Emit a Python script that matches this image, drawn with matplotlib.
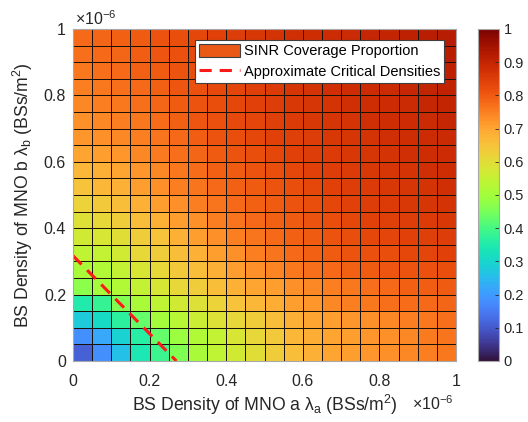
import numpy as np
import matplotlib
matplotlib.use("Agg")
import matplotlib.pyplot as plt
from matplotlib.patches import Patch
from matplotlib.lines import Line2D
from matplotlib.ticker import FuncFormatter

plt.rcParams['font.family'] = ['Liberation Sans', 'DejaVu Sans']
plt.rcParams['mathtext.fontset'] = 'custom'
plt.rcParams['mathtext.rm'] = 'Liberation Sans'
plt.rcParams['mathtext.it'] = 'Liberation Sans:italic'

# grid edges of BS densities (units of 1e-6 BSs/m^2)
lambda_a_edges = [0.00, 0.05, 0.10, 0.15, 0.20, 0.25, 0.30, 0.35, 0.40, 0.45, 0.50,
                  0.55, 0.60, 0.65, 0.70, 0.75, 0.80, 0.85, 0.90, 0.95, 1.00]
lambda_b_edges = [0.00, 0.05, 0.10, 0.15, 0.20, 0.25, 0.30, 0.35, 0.40, 0.45, 0.50,
                  0.55, 0.60, 0.65, 0.70, 0.75, 0.80, 0.85, 0.90, 0.95, 1.00]

# SINR coverage proportion, rows = lambda_b (bottom to top), cols = lambda_a
coverage = [
    [0.11, 0.18, 0.26, 0.34, 0.39, 0.46, 0.51, 0.54, 0.57, 0.60, 0.63, 0.66, 0.68, 0.70, 0.71, 0.72, 0.73, 0.74, 0.75, 0.76],
    [0.18, 0.22, 0.29, 0.36, 0.43, 0.49, 0.52, 0.55, 0.58, 0.61, 0.64, 0.67, 0.69, 0.70, 0.71, 0.72, 0.73, 0.74, 0.755, 0.765],
    [0.28, 0.31, 0.37, 0.43, 0.50, 0.53, 0.56, 0.59, 0.61, 0.63, 0.66, 0.68, 0.70, 0.71, 0.72, 0.73, 0.74, 0.75, 0.76, 0.77],
    [0.35, 0.38, 0.46, 0.51, 0.54, 0.57, 0.59, 0.62, 0.65, 0.67, 0.69, 0.71, 0.72, 0.74, 0.75, 0.76, 0.77, 0.775, 0.78, 0.785],
    [0.47, 0.50, 0.52, 0.55, 0.58, 0.61, 0.63, 0.66, 0.68, 0.70, 0.71, 0.73, 0.74, 0.75, 0.76, 0.77, 0.78, 0.79, 0.795, 0.80],
    [0.51, 0.52, 0.55, 0.58, 0.61, 0.64, 0.66, 0.68, 0.71, 0.73, 0.745, 0.76, 0.77, 0.78, 0.79, 0.80, 0.805, 0.81, 0.815, 0.82],
    [0.54, 0.55, 0.57, 0.61, 0.63, 0.66, 0.68, 0.71, 0.73, 0.75, 0.765, 0.78, 0.79, 0.80, 0.81, 0.815, 0.82, 0.83, 0.835, 0.84],
    [0.57, 0.58, 0.60, 0.63, 0.65, 0.68, 0.71, 0.73, 0.75, 0.765, 0.78, 0.79, 0.80, 0.81, 0.82, 0.83, 0.835, 0.84, 0.845, 0.85],
    [0.59, 0.61, 0.63, 0.66, 0.68, 0.71, 0.73, 0.75, 0.765, 0.78, 0.79, 0.80, 0.81, 0.82, 0.83, 0.84, 0.845, 0.85, 0.855, 0.86],
    [0.62, 0.64, 0.66, 0.68, 0.71, 0.73, 0.75, 0.765, 0.78, 0.79, 0.80, 0.81, 0.82, 0.83, 0.84, 0.85, 0.855, 0.86, 0.865, 0.87],
    [0.65, 0.67, 0.68, 0.71, 0.73, 0.75, 0.765, 0.78, 0.79, 0.80, 0.81, 0.82, 0.83, 0.84, 0.85, 0.855, 0.86, 0.865, 0.87, 0.875],
    [0.67, 0.68, 0.70, 0.72, 0.74, 0.76, 0.775, 0.79, 0.80, 0.81, 0.82, 0.83, 0.84, 0.85, 0.855, 0.86, 0.865, 0.87, 0.875, 0.88],
    [0.70, 0.71, 0.72, 0.74, 0.755, 0.77, 0.785, 0.80, 0.81, 0.82, 0.83, 0.84, 0.85, 0.855, 0.86, 0.865, 0.87, 0.875, 0.88, 0.885],
    [0.72, 0.73, 0.74, 0.75, 0.765, 0.78, 0.795, 0.81, 0.82, 0.83, 0.84, 0.845, 0.85, 0.86, 0.865, 0.87, 0.875, 0.88, 0.885, 0.89],
    [0.73, 0.74, 0.75, 0.76, 0.775, 0.79, 0.805, 0.815, 0.825, 0.835, 0.845, 0.855, 0.86, 0.865, 0.87, 0.875, 0.88, 0.885, 0.89, 0.895],
    [0.74, 0.75, 0.76, 0.77, 0.785, 0.80, 0.81, 0.82, 0.83, 0.84, 0.85, 0.86, 0.865, 0.87, 0.875, 0.88, 0.885, 0.89, 0.895, 0.90],
    [0.75, 0.76, 0.77, 0.78, 0.79, 0.805, 0.815, 0.825, 0.835, 0.845, 0.855, 0.865, 0.87, 0.875, 0.88, 0.885, 0.89, 0.895, 0.90, 0.905],
    [0.76, 0.77, 0.78, 0.79, 0.80, 0.81, 0.82, 0.83, 0.84, 0.85, 0.86, 0.87, 0.875, 0.88, 0.885, 0.89, 0.895, 0.90, 0.905, 0.91],
    [0.77, 0.78, 0.785, 0.795, 0.805, 0.815, 0.825, 0.835, 0.845, 0.855, 0.865, 0.87, 0.88, 0.885, 0.89, 0.895, 0.90, 0.905, 0.91, 0.915],
    [0.78, 0.785, 0.79, 0.80, 0.81, 0.82, 0.83, 0.84, 0.85, 0.86, 0.87, 0.875, 0.88, 0.885, 0.89, 0.895, 0.90, 0.91, 0.915, 0.92],
]

# approximate critical densities line (units of 1e-6)
critical_a = [0.0, 0.27]
critical_b = [0.317, 0.0]

axis_ticks = [0, 0.2, 0.4, 0.6, 0.8, 1.0]
cbar_ticks = [0, 0.1, 0.2, 0.3, 0.4, 0.5, 0.6, 0.7, 0.8, 0.9, 1.0]

SCALE = 1e-6
xa = np.array(lambda_a_edges) * SCALE
yb = np.array(lambda_b_edges) * SCALE
C = np.array(coverage)

TXT = '#262626'
fig = plt.figure(figsize=(5.28, 4.22), dpi=100)
ax = fig.add_axes([73/528, 1 - 361/422, 383/528, 332/422])
cax = fig.add_axes([478/528, 1 - 361/422, 21/528, 332/422])

mesh = ax.pcolormesh(xa, yb, C, cmap='turbo', vmin=0, vmax=1,
                     edgecolors='#1a1208', linewidth=0.6)
ax.plot(np.array(critical_a) * SCALE, np.array(critical_b) * SCALE,
        color='#ff1a1a', linestyle=(0, (4, 2.6)), linewidth=2.2)

ax.set_xlim(0, 1e-6)
ax.set_ylim(0, 1e-6)
fmt = FuncFormatter(lambda v, p: f"{v / SCALE:g}")
ax.set_xticks(np.array(axis_ticks) * SCALE)
ax.set_yticks(np.array(axis_ticks) * SCALE)
ax.xaxis.set_major_formatter(fmt)
ax.yaxis.set_major_formatter(fmt)
ax.tick_params(axis='both', length=0, labelsize=11.5, colors=TXT)
ax.tick_params(axis='x', pad=9)
ax.tick_params(axis='y', pad=5)
for s in ax.spines.values():
    s.set_color('#a8a8a8')
    s.set_linewidth(0.8)

ax.set_xlabel('BS Density of MNO a λ$_\\mathrm{a}$ (BSs/m$^2$)', fontsize=12.7, color=TXT, labelpad=3)
ax.set_ylabel('BS Density of MNO b λ$_\\mathrm{b}$ (BSs/m$^2$)', fontsize=12.7, color=TXT, labelpad=6)

fig.text(75/528, 1 - 25/422, '×10$^{-6}$', fontsize=11.5, color=TXT, ha='left', va='baseline')
fig.text(412/528, 1 - 410/422, '×10$^{-6}$', fontsize=11.5, color=TXT, ha='left', va='baseline')

handles = [Patch(facecolor='#ea5a16', edgecolor='#404040', linewidth=0.8),
           Line2D([0], [0], color='#ff1a1a', linestyle=(0, (4, 2.6)), linewidth=2.2)]
labels = ['SINR Coverage Proportion', 'Approximate Critical Densities']
leg = ax.legend(handles, labels, loc='upper right', bbox_to_anchor=(0.969, 0.967),
                borderaxespad=0, fancybox=False, framealpha=1, edgecolor='#404040',
                fontsize=10.5, handlelength=2.8, handleheight=1.0, handletextpad=0.3,
                borderpad=0.25, labelspacing=0.45)
leg.get_frame().set_linewidth(0.8)

cb = fig.colorbar(mesh, cax=cax, ticks=cbar_ticks)
cb.ax.set_yticklabels([f"{t:g}" for t in cbar_ticks])
cb.ax.tick_params(labelsize=10.5, colors=TXT, length=3, direction='in', width=0.6)
cb.outline.set_edgecolor('#a8a8a8')
cb.outline.set_linewidth(0.8)

fig.savefig('out.png', dpi=100)
